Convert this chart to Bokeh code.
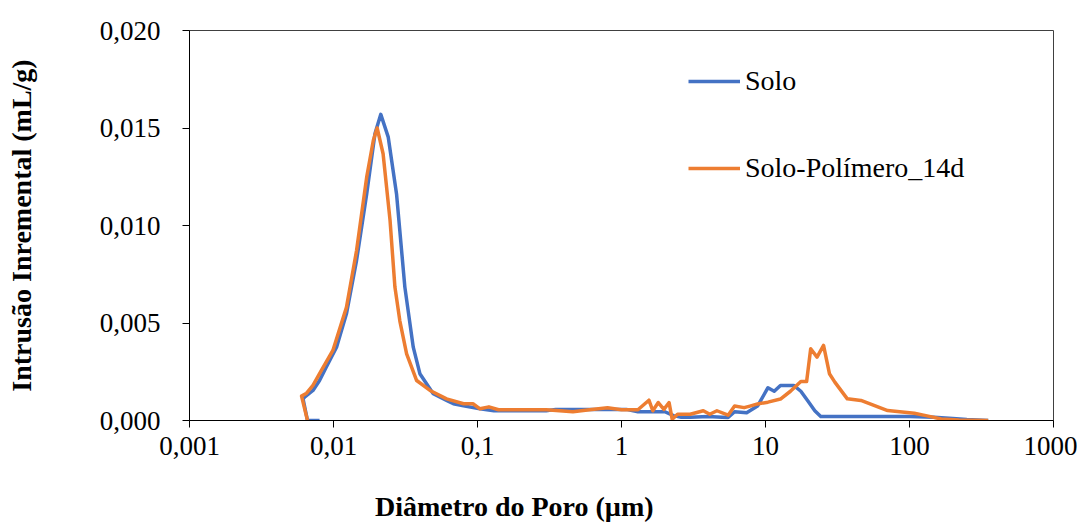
from bokeh.plotting import figure
from bokeh.models import FixedTicker, Legend, LegendItem, LogAxis
from bokeh.embed import file_html
from bokeh.resources import INLINE

# ---- data ----
solo_x = [0.0080, 0.0066, 0.00615, 0.0063, 0.0072, 0.0080, 0.0089, 0.0105, 0.0123,
          0.01445, 0.0170, 0.0194, 0.0213, 0.0240, 0.0274, 0.0313, 0.0358, 0.0398,
          0.0493, 0.061, 0.068, 0.080, 0.104, 0.13, 0.20, 0.30, 0.35, 0.50, 0.80,
          1.08, 1.3, 1.6, 2.0, 2.3, 2.6, 3.0, 4.0, 5.0, 5.5, 6.1, 7.4, 8.8, 10.4,
          11.5, 12.7, 15.7, 17.6, 19.7, 22.0, 24.2, 30.0, 60.0, 100.0, 148.0, 200.0,
          250.0, 352.0]
solo_y = [0.0, 0.0, 0.0011, 0.0012, 0.00154, 0.00205, 0.00273, 0.00376, 0.00547,
          0.0082, 0.01162, 0.0147, 0.0157, 0.01453, 0.01162, 0.00684, 0.00376, 0.0024,
          0.00137, 0.00103, 0.00086, 0.00075, 0.0006, 0.0005, 0.0005, 0.0005, 0.00057,
          0.00057, 0.00057, 0.00057, 0.00045, 0.00045, 0.00045, 0.00025, 0.00017,
          0.00017, 0.0002, 0.00017, 0.00015, 0.00045, 0.0004, 0.00074, 0.00168,
          0.0015, 0.0018, 0.0018, 0.0015, 0.0010, 0.0005, 0.0002, 0.0002, 0.0002,
          0.0002, 0.00017, 0.0001, 0.00005, 0.0]

poli_x = [0.0066, 0.0060, 0.0065, 0.0072, 0.0080, 0.0099, 0.0123, 0.01445, 0.0170,
          0.0189, 0.0201, 0.0221, 0.0247, 0.0267, 0.0289, 0.0322, 0.0378, 0.0468,
          0.061, 0.080, 0.093, 0.104, 0.12, 0.14, 0.17, 0.20, 0.30, 0.46, 0.60, 0.80,
          1.0, 1.3, 1.55, 1.65, 1.8, 1.97, 2.14, 2.25, 2.45, 3.0, 3.7, 4.1, 4.6, 5.5,
          6.1, 7.1, 7.8, 8.8, 10.4, 12.7, 14.9, 17.6, 19.3, 20.6, 22.8, 25.3, 27.8,
          30.3, 37.0, 46.0, 70.5, 108.0, 130.0, 166.0, 220.0, 352.0]
poli_y = [0.0, 0.00125, 0.0014, 0.0018, 0.0024, 0.00359, 0.0058, 0.0087, 0.01248,
          0.01436, 0.0150, 0.01368, 0.01026, 0.00684, 0.0051, 0.00342, 0.00205, 0.00154,
          0.00111, 0.00086, 0.00086, 0.0006, 0.0007, 0.00055, 0.00055, 0.00055,
          0.00055, 0.00045, 0.00055, 0.00065, 0.00055, 0.00055, 0.00104, 0.0005,
          0.00092, 0.00057, 0.00092, 0.00006, 0.00032, 0.00032, 0.0005, 0.00032,
          0.0005, 0.00027, 0.00074, 0.00066, 0.00074, 0.00085, 0.00094, 0.0011,
          0.0015, 0.0020, 0.0020, 0.00368, 0.00325, 0.00385, 0.0024, 0.00197, 0.00111,
          0.00103, 0.00051, 0.00037, 0.00025, 0.00008, 0.00002, 0.0]

series_names = ["Solo", "Solo-Polímero_14d"]
series_colors = ["#4472C4", "#ED7D31"]

x_ticks = [0.001, 0.01, 0.1, 1, 10, 100, 1000]
x_tick_labels = ["0,001", "0,01", "0,1", "1", "10", "100", "1000"]
y_ticks = [0.0, 0.005, 0.010, 0.015, 0.020]
y_tick_labels = ["0,000", "0,005", "0,010", "0,015", "0,020"]

x_title = "Diâmetro do Poro (µm)"
y_title = "Intrusão Inremental (mL/g)"

FONT = "Liberation Serif"

p = figure(width=1077, height=529, x_axis_type="log",
           x_range=(0.001, 1000), y_range=(0.0, 0.020),
           output_backend="svg", toolbar_location=None,
           min_border_left=189, min_border_right=24,
           min_border_top=30, min_border_bottom=109)

p.xgrid.visible = False
p.ygrid.visible = False
p.background_fill_color = "white"
p.border_fill_color = "white"
p.outline_line_color = "#404040"
p.outline_line_width = 1

r1 = p.line(solo_x, solo_y, line_color=series_colors[0], line_width=3.5, line_join="round")
r2 = p.line(poli_x, poli_y, line_color=series_colors[1], line_width=3.5, line_join="round")

# x axis
xa = p.xaxis[0]
xa.ticker = FixedTicker(ticks=x_ticks, minor_ticks=[])
xa.major_label_overrides = {t: l for t, l in zip(x_ticks, x_tick_labels)}
xa.major_label_text_font = FONT
xa.major_label_text_font_size = "27px"
xa.major_label_text_color = "black"
xa.major_tick_out = 7
xa.major_tick_in = 0
xa.minor_tick_out = 0
xa.minor_tick_in = 0
xa.major_label_standoff = 9
xa.axis_line_color = "black"
xa.major_tick_line_color = "black"

# y axis
ya = p.yaxis[0]
ya.ticker = FixedTicker(ticks=y_ticks, minor_ticks=[])
ya.major_label_overrides = {t: l for t, l in zip(y_ticks, y_tick_labels)}
ya.major_label_text_font = FONT
ya.major_label_text_font_size = "27px"
ya.major_label_text_color = "black"
ya.major_tick_out = 7
ya.major_tick_in = 0
ya.minor_tick_out = 0
ya.minor_tick_in = 0
ya.major_label_standoff = 22
ya.axis_line_color = "black"
ya.major_tick_line_color = "black"
ya.axis_label = y_title
ya.axis_label_text_font = FONT
ya.axis_label_text_font_style = "bold"
ya.axis_label_text_font_size = "28px"
ya.axis_label_text_color = "black"
ya.axis_label_standoff = 60

# x axis title: carried by a bare second axis below, placed left of centre as in the reference
title_pos = 0.18
ta = LogAxis(ticker=FixedTicker(ticks=[title_pos], minor_ticks=[]),
             major_label_overrides={title_pos: x_title},
             axis_line_color=None, major_tick_line_color=None,
             minor_tick_line_color=None, major_tick_out=0, major_tick_in=0,
             minor_tick_out=0, minor_tick_in=0, major_label_standoff=33,
             major_label_text_font=FONT, major_label_text_font_style="bold",
             major_label_text_font_size="28px", major_label_text_color="black")
p.add_layout(ta, "below")

legend = Legend(items=[LegendItem(label=series_names[0], renderers=[r1]),
                       LegendItem(label=series_names[1], renderers=[r2])],
                location=(499, 236), orientation="vertical",
                padding=0, margin=0, spacing=55,
                glyph_width=52, glyph_height=30, label_height=30,
                label_standoff=5, label_text_font=FONT,
                label_text_font_size="28px", label_text_color="black",
                border_line_color=None, background_fill_alpha=0)
p.add_layout(legend)

open("out.html", "w").write(file_html(p, INLINE))
